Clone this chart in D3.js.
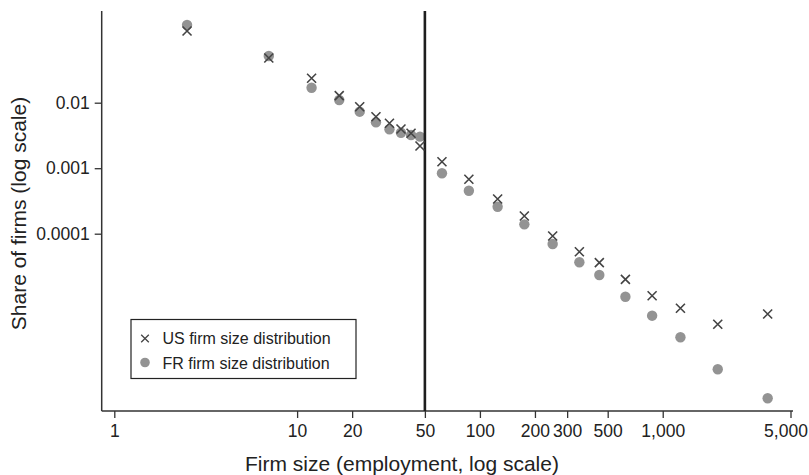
<!DOCTYPE html>
<html>
<head>
<meta charset="utf-8">
<script src="https://cdn.jsdelivr.net/npm/d3@7"></script>
<style>
  html, body { margin: 0; padding: 0; background: #fff; }
  svg { display: block; font-family: "Liberation Sans", Arial, sans-serif; }
</style>
</head>
<body>
<svg id="chart" width="809" height="475"></svg>
<script>
// Firm size bins (midpoints, employment)
const firmSize = [2.5, 7, 12, 17, 22, 27, 32, 37, 42, 47, 62, 87, 125, 175, 250, 350, 450, 625, 875, 1250, 2000, 3750];
// Share of firms, US
const usShare = [0.1245, 0.0481, 0.0236, 0.0128, 0.00869, 0.00611, 0.00485, 0.00397, 0.00341, 0.00218,
  0.001256, 0.000678, 0.000339, 0.000186, 0.0000922, 0.0000531, 0.0000361, 0.0000201, 0.0000113,
  0.00000726, 0.00000414, 0.00000594];
// Share of firms, France
const frShare = [0.1535, 0.0516, 0.01694, 0.0110, 0.00729, 0.00502, 0.00393, 0.00348, 0.00321, 0.00303,
  0.000836, 0.000453, 0.000258, 0.000139, 0.0000697, 0.0000366, 0.0000234, 0.0000109, 0.0000056,
  0.00000262, 0.000000851, 0.000000307];
const xTicks = [1, 10, 20, 50, 100, 200, 300, 500, 1000, 5000];
const xTickLabels = ["1", "10", "20", "50", "100", "200", "300", "500", "1,000", "5,000"];
const yTicks = [0.01, 0.001, 0.0001];
const yTickLabels = ["0.01", "0.001", "0.0001"];
const threshold = 50;
const seriesNames = ["US firm size distribution", "FR firm size distribution"];

const svg = d3.select("#chart");
const axisColor = "#333";
const textColor = "#222";

const x = d3.scaleLog().domain([1, 5000]).range([114.3, 790.5]);
const y = d3.scaleLog().domain([0.01, 0.0001]).range([102.7, 233.7]);

const plotLeft = 101.7, plotRight = 793, plotTop = 11, plotBottom = 411;

// Axes lines
svg.append("line").attr("x1", plotLeft).attr("x2", plotLeft).attr("y1", plotTop).attr("y2", plotBottom)
  .attr("stroke", axisColor).attr("stroke-width", 1.5);
svg.append("line").attr("x1", plotLeft).attr("x2", plotRight).attr("y1", plotBottom).attr("y2", plotBottom)
  .attr("stroke", axisColor).attr("stroke-width", 1.5);

// X axis
const xAxis = d3.axisBottom(x).tickValues(xTicks)
  .tickFormat((d, i) => xTickLabels[i]).tickSize(7).tickSizeOuter(0).tickPadding(6);
const gx = svg.append("g").attr("transform", `translate(0,${plotBottom})`).call(xAxis);
gx.select(".domain").remove();
gx.selectAll(".tick line").attr("stroke", axisColor).attr("stroke-width", 1.3);
gx.selectAll(".tick text").attr("fill", textColor).style("font-size", "17.5px")
  .style("font-family", "'Liberation Sans', Arial, sans-serif").attr("dy", "0.71em").attr("y", 14)
  .attr("x", d => d === 5000 ? -5 : 0);

// Y axis
const yAxis = d3.axisLeft(y).tickValues(yTicks)
  .tickFormat((d, i) => yTickLabels[i]).tickSize(7).tickSizeOuter(0).tickPadding(5);
const gy = svg.append("g").attr("transform", `translate(${plotLeft},0)`).call(yAxis);
gy.select(".domain").remove();
gy.selectAll(".tick line").attr("stroke", axisColor).attr("stroke-width", 1.3);
gy.selectAll(".tick text").attr("fill", textColor).style("font-size", "17.5px")
  .style("font-family", "'Liberation Sans', Arial, sans-serif");

// FR circles
svg.append("g").selectAll("circle").data(firmSize).join("circle")
  .attr("cx", d => x(d)).attr("cy", (d, i) => y(frShare[i])).attr("r", 5.2)
  .attr("fill", "#939393");

// Vertical threshold line
svg.append("line").attr("x1", x(threshold)).attr("x2", x(threshold))
  .attr("y1", plotTop).attr("y2", plotBottom)
  .attr("stroke", "#1e1e1e").attr("stroke-width", 2.6);

// US crosses
const cs = 4.5;
svg.append("g").selectAll("path").data(firmSize).join("path")
  .attr("d", (d, i) => {
    const cx = x(d), cy = y(usShare[i]);
    return `M${cx - cs},${cy - cs}L${cx + cs},${cy + cs}M${cx - cs},${cy + cs}L${cx + cs},${cy - cs}`;
  })
  .attr("stroke", "#444").attr("stroke-width", 1.6).attr("fill", "none");

// Legend
const lg = svg.append("g");
lg.append("rect").attr("x", 131).attr("y", 319.5).attr("width", 225).attr("height", 59)
  .attr("fill", "#fff").attr("stroke", "#222").attr("stroke-width", 1.2);
const lcs = 3.8;
lg.append("path")
  .attr("d", `M${145 - lcs},${338.5 - lcs}L${145 + lcs},${338.5 + lcs}M${145 - lcs},${338.5 + lcs}L${145 + lcs},${338.5 - lcs}`)
  .attr("stroke", "#444").attr("stroke-width", 1.3).attr("fill", "none");
lg.append("circle").attr("cx", 145).attr("cy", 362.5).attr("r", 4.8).attr("fill", "#939393");
lg.append("text").attr("x", 162.5).attr("y", 344).text(seriesNames[0])
  .attr("fill", textColor).style("font-size", "16px");
lg.append("text").attr("x", 162.5).attr("y", 368.5).text(seriesNames[1])
  .attr("fill", textColor).style("font-size", "16px");

// Axis titles
svg.append("text").attr("x", 402).attr("y", 471).attr("text-anchor", "middle")
  .attr("fill", textColor).style("font-size", "21px").text("Firm size (employment, log scale)");
svg.append("text").attr("transform", "translate(26,213.5) rotate(-90)").attr("text-anchor", "middle")
  .attr("fill", textColor).style("font-size", "21px").text("Share of firms (log scale)");
</script>
</body>
</html>
